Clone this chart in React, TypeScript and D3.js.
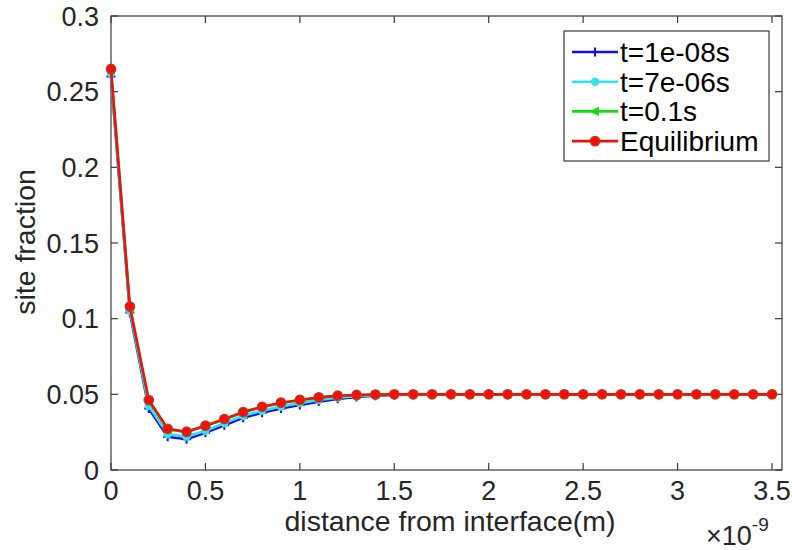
import React from "react";
import * as d3 from "d3";

// distance from interface, in units of 1e-9 m
const distance = [
  0, 0.1, 0.2, 0.3, 0.4, 0.5, 0.6, 0.7, 0.8, 0.9, 1.0, 1.1, 1.2, 1.3, 1.4, 1.5, 1.6, 1.7,
  1.8, 1.9, 2.0, 2.1, 2.2, 2.3, 2.4, 2.5, 2.6, 2.7, 2.8, 2.9, 3.0, 3.1, 3.2, 3.3, 3.4, 3.5,
];

const t1e08 = [
  0.26, 0.104, 0.0407, 0.022, 0.0203, 0.0246, 0.0295, 0.0345, 0.0379, 0.0407, 0.043, 0.0452,
  0.047, 0.0483, 0.0491, 0.0496, 0.0498, 0.0499, 0.05, 0.05, 0.05, 0.05, 0.05, 0.05, 0.05,
  0.05, 0.05, 0.05, 0.05, 0.05, 0.05, 0.05, 0.05, 0.05, 0.05, 0.05,
];

const t7e06 = [
  0.262, 0.1055, 0.0425, 0.0236, 0.0221, 0.026, 0.031, 0.0358, 0.0392, 0.042, 0.0442, 0.0462,
  0.0477, 0.0487, 0.0494, 0.0497, 0.0499, 0.05, 0.05, 0.05, 0.05, 0.05, 0.05, 0.05, 0.05,
  0.05, 0.05, 0.05, 0.05, 0.05, 0.05, 0.05, 0.05, 0.05, 0.05, 0.05,
];

const t01 = [
  0.2645, 0.1075, 0.0458, 0.0268, 0.025, 0.029, 0.0334, 0.038, 0.0415, 0.0442, 0.0461, 0.0478,
  0.049, 0.0495, 0.0498, 0.05, 0.05, 0.05, 0.05, 0.05, 0.05, 0.05, 0.05, 0.05, 0.05, 0.05,
  0.05, 0.05, 0.05, 0.05, 0.05, 0.05, 0.05, 0.05, 0.05, 0.05,
];

const equilibrium = [
  0.265, 0.108, 0.0462, 0.0272, 0.0253, 0.0293, 0.0337, 0.0383, 0.0418, 0.0445, 0.0463, 0.048,
  0.0491, 0.0496, 0.0499, 0.05, 0.05, 0.05, 0.05, 0.05, 0.05, 0.05, 0.05, 0.05, 0.05, 0.05,
  0.05, 0.05, 0.05, 0.05, 0.05, 0.05, 0.05, 0.05, 0.05, 0.05,
];

const seriesNames = ["t=1e-08s", "t=7e-06s", "t=0.1s", "Equilibrium"];
const seriesColors = ["#1010f0", "#30e4ee", "#10e010", "#f01010"];
const seriesMarkers = ["plus", "circle", "triangle", "circle"];

const xTicks = [0, 0.5, 1, 1.5, 2, 2.5, 3, 3.5];
const xTickLabels = ["0", "0.5", "1", "1.5", "2", "2.5", "3", "3.5"];
const yTicks = [0, 0.05, 0.1, 0.15, 0.2, 0.25, 0.3];
const yTickLabels = ["0", "0.05", "0.1", "0.15", "0.2", "0.25", "0.3"];

const W = 792;
const H = 550;
const left = 111;
const right = 782;
const top = 16;
const bottom = 470;
const font = "'Liberation Sans', Arial, Helvetica, sans-serif";
const axisColor = "#3a3a3a";
const textColor = "#262626";

const x = d3.scaleLinear().domain([0, 3.553]).range([left, right]);
const y = d3.scaleLinear().domain([0, 0.3]).range([bottom, top]);

const Marker = ({ kind, cx, cy, color }: { kind: string; cx: number; cy: number; color: string }) => {
  if (kind === "plus") {
    return (
      <path
        d={`M${cx - 4.5},${cy}H${cx + 4.5}M${cx},${cy - 4.5}V${cy + 4.5}`}
        stroke={color}
        strokeWidth={2}
      />
    );
  }
  if (kind === "triangle") {
    return (
      <path
        d={`M${cx - 4.5},${cy}L${cx + 3.5},${cy - 4}L${cx + 3.5},${cy + 4}Z`}
        fill={color}
        stroke={color}
        strokeWidth={1}
      />
    );
  }
  const isRed = color === "#f01010";
  return (
    <circle
      cx={cx}
      cy={cy}
      r={isRed ? 4.7 : 3.6}
      fill={color}
      stroke={isRed ? "#c03a10" : color}
      strokeWidth={1.3}
    />
  );
};

export default function App() {
  const allSeries = [t1e08, t7e06, t01, equilibrium];
  const line = d3
    .line<number>()
    .x((_, i) => x(distance[i]))
    .y((d) => y(d));

  const legendX = 564;
  const legendY = 31;
  const legendW = 205;
  const legendH = 130;

  return (
    <svg
      width={W}
      height={H}
      style={{ position: "absolute", left: 0, top: 0, background: "#fff" }}
      fontFamily={font}
    >
      {/* plot box */}
      <rect x={left} y={top} width={right - left} height={bottom - top} fill="#fff" stroke={axisColor} strokeWidth={1.2} />

      {/* ticks, mirrored on all four sides */}
      {xTicks.map((t, i) => (
        <g key={"xt" + i}>
          <line x1={x(t)} x2={x(t)} y1={bottom} y2={bottom - 7} stroke={axisColor} strokeWidth={1.2} />
          <line x1={x(t)} x2={x(t)} y1={top} y2={top + 7} stroke={axisColor} strokeWidth={1.2} />
          <text x={x(t)} y={500} textAnchor="middle" fontSize={27} fill={textColor}>
            {xTickLabels[i]}
          </text>
        </g>
      ))}
      {yTicks.map((t, i) => (
        <g key={"yt" + i}>
          <line x1={left} x2={left + 7} y1={y(t)} y2={y(t)} stroke={axisColor} strokeWidth={1.2} />
          <line x1={right} x2={right - 7} y1={y(t)} y2={y(t)} stroke={axisColor} strokeWidth={1.2} />
          <text x={99} y={y(t)} dy="0.36em" textAnchor="end" fontSize={27} fill={textColor}>
            {yTickLabels[i]}
          </text>
        </g>
      ))}

      {/* series */}
      {allSeries.map((s, k) => (
        <g key={"s" + k}>
          <path d={line(s) || ""} fill="none" stroke={seriesColors[k]} strokeWidth={2.6} />
          {s.map((v, i) => (
            <Marker key={i} kind={seriesMarkers[k]} cx={x(distance[i])} cy={y(v)} color={seriesColors[k]} />
          ))}
        </g>
      ))}

      {/* axis labels */}
      <text x={450} y={531} textAnchor="middle" fontSize={28.5} fill={textColor}>
        distance from interface(m)
      </text>
      <text
        transform="translate(35,242) rotate(-90)"
        textAnchor="middle"
        fontSize={28.5}
        fill={textColor}
      >
        site fraction
      </text>
      <text x={706} y={545} fontSize={27} fill={textColor}>
        ×10
        <tspan dy={-14} fontSize={19}>
          -9
        </tspan>
      </text>

      {/* legend */}
      <rect x={legendX} y={legendY} width={legendW} height={legendH} fill="#fff" stroke={axisColor} strokeWidth={1.2} />
      {seriesNames.map((name, k) => {
        const cy = 52 + k * 29.7;
        return (
          <g key={"lg" + k}>
            <line x1={572} x2={618} y1={cy} y2={cy} stroke={seriesColors[k]} strokeWidth={2.6} />
            <Marker kind={seriesMarkers[k]} cx={595} cy={cy} color={seriesColors[k]} />
            <text x={620} y={cy} dy="0.36em" fontSize={28} fill="#000">
              {name}
            </text>
          </g>
        );
      })}
    </svg>
  );
}
